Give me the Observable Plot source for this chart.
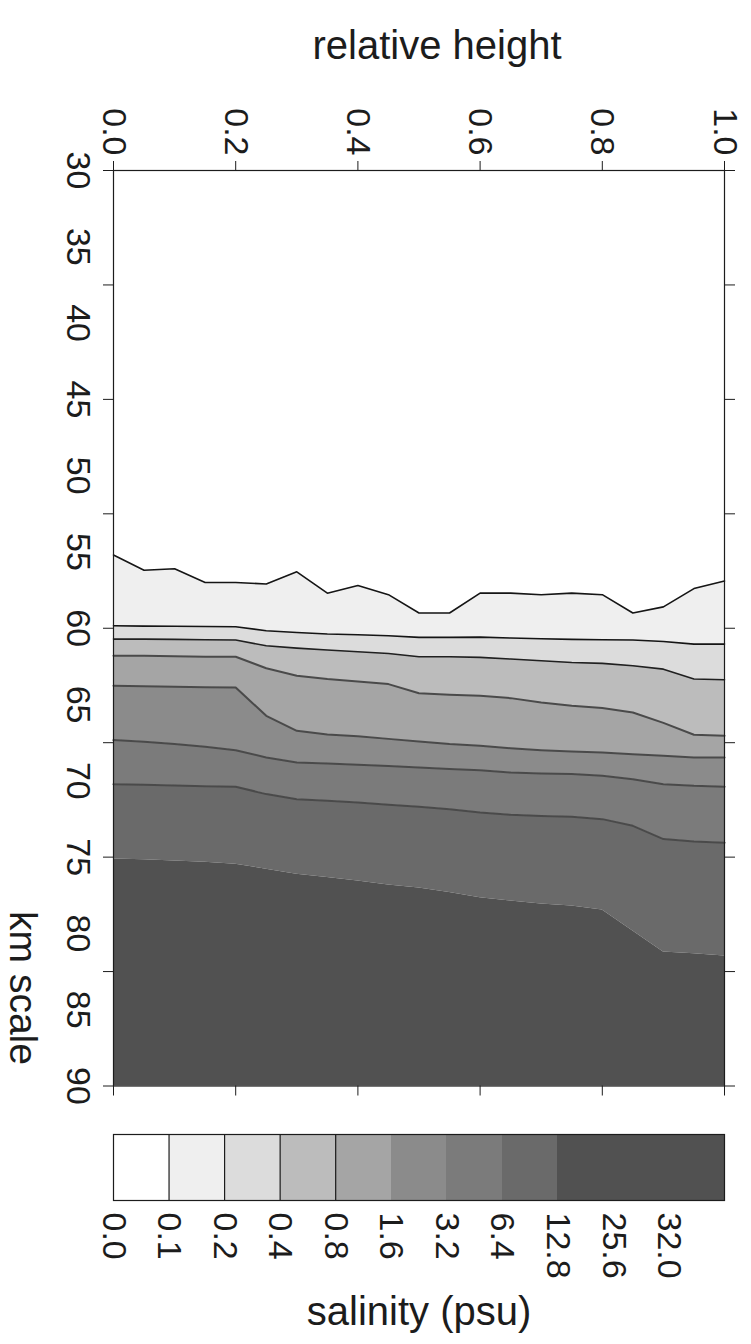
<!DOCTYPE html>
<html>
<head>
<meta charset="utf-8">
<script src="https://cdn.jsdelivr.net/npm/d3@7"></script>
<script src="https://cdn.jsdelivr.net/npm/@observablehq/plot@0.6"></script>
<style>
  html, body { margin: 0; padding: 0; background: #ffffff; }
  #chart svg, #legend svg { display: block; }
</style>
</head>
<body>
<div id="chart"></div>
<div id="legend"></div>
<script>
// ---- data ----
const relHeight = [0.00, 0.05, 0.10, 0.15, 0.20, 0.25, 0.30, 0.35, 0.40, 0.45, 0.50,
                   0.55, 0.60, 0.65, 0.70, 0.75, 0.80, 0.85, 0.90, 0.95, 1.00];

// km position of each salinity isoline along relative height
const iso0_1  = [55.2, 56.2, 56.1, 57.0, 57.0, 57.1, 56.3, 57.7, 57.2, 57.8, 59.0, 59.0, 57.7, 57.7, 57.8, 57.7, 57.8, 59.0, 58.6, 57.4, 56.9];
const iso0_2  = [59.84, 59.86, 59.87, 59.89, 59.90, 60.16, 60.28, 60.38, 60.43, 60.49, 60.60, 60.60, 60.58, 60.64, 60.69, 60.73, 60.75, 60.77, 60.87, 61.04, 61.04];
const iso0_4  = [60.71, 60.71, 60.73, 60.75, 60.77, 61.15, 61.30, 61.43, 61.54, 61.65, 61.87, 61.87, 61.91, 62.02, 62.13, 62.24, 62.30, 62.46, 62.68, 63.33, 63.38];
const iso0_8  = [61.80, 61.80, 61.84, 61.87, 61.87, 62.62, 63.11, 63.33, 63.49, 63.66, 64.26, 64.36, 64.43, 64.58, 64.87, 65.08, 65.23, 65.52, 66.20, 66.98, 67.05];
const iso1_6  = [63.77, 63.80, 63.84, 63.86, 63.88, 65.74, 66.72, 66.97, 67.08, 67.25, 67.42, 67.59, 67.70, 67.86, 67.99, 68.08, 68.14, 68.25, 68.36, 68.47, 68.47];
const iso3_2  = [67.33, 67.44, 67.59, 67.77, 67.99, 68.47, 68.80, 68.87, 68.95, 69.02, 69.13, 69.23, 69.30, 69.46, 69.52, 69.56, 69.67, 69.89, 70.22, 70.33, 70.39];
const iso6_4  = [70.22, 70.26, 70.31, 70.35, 70.39, 70.87, 71.20, 71.31, 71.42, 71.57, 71.70, 71.86, 72.08, 72.23, 72.30, 72.36, 72.51, 72.95, 73.82, 73.98, 74.05];
const iso12_8 = [75.13, 75.18, 75.25, 75.34, 75.46, 75.79, 76.12, 76.34, 76.56, 76.82, 77.02, 77.32, 77.67, 77.87, 78.07, 78.20, 78.46, 79.84, 81.21, 81.34, 81.48];

const isolines = [iso0_1, iso0_2, iso0_4, iso0_8, iso1_6, iso3_2, iso6_4, iso12_8];

// legend classes (salinity, psu) and their grey fills
const legendLabels = ["0.0", "0.1", "0.2", "0.4", "0.8", "1.6", "3.2", "6.4", "12.8", "25.6", "32.0"];
const legendFills  = ["#ffffff", "#efefef", "#dcdcdc", "#bcbcbc", "#a5a5a5", "#8b8b8b", "#7b7b7b", "#6a6a6a", "#515151", "#515151", "#515151"];

// axis ticks and labels
const relTicks      = [0, 0.2, 0.4, 0.6, 0.8, 1.0];
const relTickLabels = ["0.0", "0.2", "0.4", "0.6", "0.8", "1.0"];
const kmTickMarks   = [30, 37.5, 45, 52.5, 60, 67.5, 75, 82.5, 90];
const kmLabels      = [30, 35, 40, 45, 50, 55, 60, 65, 70, 75, 80, 85, 90];
const kmDomain      = [30, 90];

// ---- styles ----
const FONT = "'Liberation Sans', Arial, Helvetica, sans-serif";
const INK = "#1c1c1c";
const lineStyles = [
  {stroke: "#151515", strokeWidth: 1.6},
  {stroke: "#151515", strokeWidth: 1.6},
  {stroke: "#202020", strokeWidth: 1.6},
  {stroke: "#4a4a4a", strokeWidth: 2},
  {stroke: "#4a4a4a", strokeWidth: 2},
  {stroke: "#4a4a4a", strokeWidth: 2},
  {stroke: "#4a4a4a", strokeWidth: 2},
  null
];

// ---- build band areas ----
const bandMarks = [];
for (let b = 0; b < isolines.length + 1; ++b) {
  const top = b === 0 ? null : isolines[b - 1];
  const bottom = b === isolines.length ? null : isolines[b];
  const rows = relHeight.map((x, j) => ({
    x,
    y1: top ? top[j] : kmDomain[0],
    y2: bottom ? bottom[j] : kmDomain[1]
  }));
  bandMarks.push(Plot.areaY(rows, {x: "x", y1: "y1", y2: "y2", fill: legendFills[b], curve: "linear"}));
}

const lineMarks = [];
isolines.forEach((iso, k) => {
  if (!lineStyles[k]) return;
  const rows = relHeight.map((x, j) => ({x, y: iso[j]}));
  lineMarks.push(Plot.line(rows, {x: "x", y: "y", ...lineStyles[k]}));
});

const chart = Plot.plot({
  width: 751,
  height: 1120,
  marginTop: 170,
  marginLeft: 113,
  marginRight: 27,
  marginBottom: 34.5,
  style: {fontFamily: FONT, fontSize: "34px", color: INK, background: "#ffffff"},
  x: {domain: [0, 1]},
  y: {domain: kmDomain, reverse: true},
  marks: [
    ...bandMarks,
    ...lineMarks,
    Plot.frame({stroke: INK, strokeWidth: 1.2}),
    Plot.axisX(relTicks, {anchor: "top", tickSize: 10, tickFormat: () => "", label: null, stroke: INK}),
    Plot.axisX(relTicks, {anchor: "bottom", tickSize: 10, tickFormat: () => "", label: null, stroke: INK}),
    Plot.axisY(kmTickMarks, {anchor: "left", tickSize: 10, tickFormat: () => "", label: null, stroke: INK}),
    Plot.axisY(kmTickMarks, {anchor: "right", tickSize: 10, tickFormat: () => "", label: null, stroke: INK}),
    Plot.text(relTicks, {x: d => d, text: (d, i) => relTickLabels[i], frameAnchor: "top", dy: -15,
      rotate: 90, textAnchor: "end", lineAnchor: "middle", fontSize: 34, fill: INK}),
    Plot.text(kmLabels, {y: d => d, text: d => String(d), frameAnchor: "left", dx: -36,
      rotate: 90, textAnchor: "middle", lineAnchor: "middle", fontSize: 34, fill: INK}),
    Plot.text(["relative height"], {text: d => d, frameAnchor: "top", dx: 18, dy: -124,
      lineAnchor: "middle", fontSize: 40, fill: INK}),
    Plot.text(["km scale"], {text: d => d, frameAnchor: "bottom-left", dx: -91, dy: -98,
      rotate: 90, textAnchor: "middle", lineAnchor: "middle", fontSize: 39, fill: INK})
  ]
});
document.getElementById("chart").append(chart);

const legend = Plot.plot({
  width: 751,
  height: 224,
  marginTop: 14,
  marginLeft: 113,
  marginRight: 27,
  marginBottom: 144,
  style: {fontFamily: FONT, fontSize: "34px", color: INK, background: "#ffffff"},
  x: {domain: [0, legendLabels.length], axis: null},
  color: {type: "identity"},
  marks: [
    Plot.rect(legendLabels, {x1: (d, i) => i, x2: (d, i) => i + 1, fill: (d, i) => legendFills[i],
      shapeRendering: "crispEdges"}),
    Plot.ruleX(legendLabels.slice(1, 5), {x: (d, i) => i + 1, stroke: INK, strokeWidth: 1.2}),
    Plot.frame({stroke: INK, strokeWidth: 1.2}),
    Plot.text(legendLabels, {x: (d, i) => i, text: d => d, frameAnchor: "bottom", dy: 12,
      rotate: 90, textAnchor: "start", lineAnchor: "middle", fontSize: 34, fill: INK}),
    Plot.text(["salinity (psu)"], {text: d => d, frameAnchor: "bottom", dy: 112,
      lineAnchor: "middle", fontSize: 40, fill: INK})
  ]
});
document.getElementById("legend").append(legend);
</script>
</body>
</html>
